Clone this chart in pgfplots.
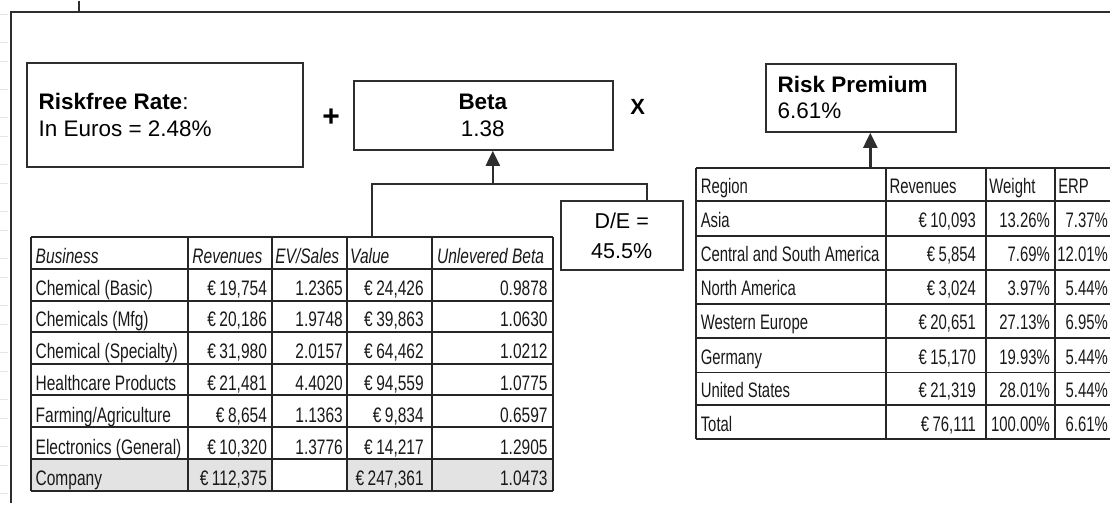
\documentclass[border=0pt]{standalone}
\usepackage{fontspec}
\setmainfont{Liberation Sans}
\newfontfamily\narrowL[FakeStretch=0.74]{Liberation Sans}
\newfontfamily\narrowR[FakeStretch=0.71]{Liberation Sans}
\usepackage{pgfplots}
\pgfplotsset{compat=1.18}
\usetikzlibrary{arrows.meta}

\definecolor{frame}{HTML}{2E2E2E}
\definecolor{gridc}{HTML}{262626}
\definecolor{cellgray}{HTML}{E3E3E3}

\newcommand{\boxfont}{\fontsize{22.5}{27}\selectfont}
\newcommand{\tabfont}{\fontsize{21}{25}\selectfont}

\tikzset{
  bx/.style={draw=frame, line width=2pt},
  tl/.style={anchor=base west, inner sep=0pt, text=black!90, font=\narrowL\tabfont},
  tr/.style={anchor=base east, inner sep=0pt, text=black!90, font=\narrowL\tabfont},
  rl/.style={anchor=base west, inner sep=0pt, text=black!90, font=\narrowR\tabfont},
  rr/.style={anchor=base east, inner sep=0pt, text=black!90, font=\narrowR\tabfont},
}

% business table: baseline, name, revenues, ev/sales, value, unlevered beta
\newcommand{\lrow}[6]{%
  \node[tl] at (35,#1) {#2};
  \node[tr] at (267,#1) {#3};
  \node[tr] at (343,#1) {#4};
  \node[tr] at (424,#1) {#5};
  \node[tr] at (548,#1) {#6};
}
% region table: baseline, region, revenues, weight, erp
\newcommand{\rrow}[5]{%
  \node[rl] at (701,#1) {#2};
  \node[rr] at (977,#1) {#3};
  \node[rr] at (1051,#1) {#4};
  \node[rr] at (1109,#1) {#5};
}

\begin{document}
\begin{tikzpicture}
\begin{axis}[
    width=1111pt, height=503pt, scale only axis,
    xmin=0, xmax=1111, ymin=0, ymax=503,
    y dir=reverse,
    hide axis,
    clip=false,
]
\path (0,0) rectangle (1111,503);

% spreadsheet margin marks
\pgfplotsinvokeforeach{14,42,61,89,117,136,164,183,211,230,258,277,305,324,352,371,399,418,446,465,493}{
  \draw[black!10, line width=1pt] (0,#1) -- (8,#1);
}

% outer frame
\draw[frame, line width=2pt] (11,503) -- (11,11) -- (1111,11);
\draw[frame, line width=2pt] (79,0) -- (79,11);

% riskfree box
\draw[bx] (27,62) rectangle (303,166);
\node[anchor=base west, inner sep=0pt, font=\boxfont] at (38,109) {\textbf{Riskfree Rate}:};
\node[anchor=base west, inner sep=0pt, font=\boxfont] at (38,136) {In Euros = 2.48\%};
\node[inner sep=0pt, font=\fontsize{30}{34}\selectfont\bfseries] at (331,117) {+};

% beta box
\draw[bx] (354,80) rectangle (613,149);
\node[anchor=base, inner sep=0pt, font=\boxfont\bfseries] at (483,109) {Beta};
\node[anchor=base, inner sep=0pt, font=\boxfont] at (483,136) {1.38};
\node[inner sep=0pt, font=\fontsize{22}{26}\selectfont\bfseries] at (638,106) {X};
\draw[frame, line width=2.4pt, -{Triangle[width=14pt,length=15pt]}] (493,183) -- (493,150);
\draw[frame, line width=2pt] (372,236) -- (372,183) -- (647,183) -- (647,200);

% D/E box
\draw[bx] (561,200) rectangle (683,269);
\node[anchor=base, inner sep=0pt, font=\fontsize{21.5}{26}\selectfont] at (622,228) {D/E =};
\node[anchor=base, inner sep=0pt, font=\fontsize{21.5}{26}\selectfont] at (622,258) {45.5\%};

% risk premium box
\draw[bx] (767,63) rectangle (957,131);
\node[anchor=base west, inner sep=0pt, font=\boxfont\bfseries] at (778,92) {Risk Premium};
\node[anchor=base west, inner sep=0pt, font=\boxfont] at (778,118) {6.61\%};
\draw[frame, line width=2.4pt, -{Triangle[width=14pt,length=15pt]}] (871,167) -- (871,132);

% ---------- business table ----------
\fill[cellgray] (31,459) rectangle (272,491);
\fill[cellgray] (347,459) rectangle (553,491);
\pgfplotsinvokeforeach{236,268,300,331,363,395,427,459,491}{
  \draw[gridc, line width=2pt] (31,#1) -- (553,#1);
}
\pgfplotsinvokeforeach{31,188,272,347,432,553}{
  \draw[gridc, line width=2pt] (#1,236) -- (#1,491);
}
\node[tl] at (35,263) {\itshape Business};
\node[tl] at (192,263) {\itshape Revenues};
\node[tl] at (275,263) {\itshape EV/Sales};
\node[tl] at (350,263) {\itshape Value};
\node[tl] at (437,263) {\itshape Unlevered Beta};
\lrow{295}{Chemical (Basic)}{€\,19,754}{1.2365}{€\,24,426}{0.9878}
\lrow{326}{Chemicals (Mfg)}{€\,20,186}{1.9748}{€\,39,863}{1.0630}
\lrow{358}{Chemical (Specialty)}{€\,31,980}{2.0157}{€\,64,462}{1.0212}
\lrow{390}{Healthcare Products}{€\,21,481}{4.4020}{€\,94,559}{1.0775}
\lrow{422}{Farming/Agriculture}{€\,8,654}{1.1363}{€\,9,834}{0.6597}
\lrow{454}{Electronics (General)}{€\,10,320}{1.3776}{€\,14,217}{1.2905}
\lrow{485}{Company}{€\,112,375}{}{€\,247,361}{1.0473}

% ---------- region table ----------
\pgfplotsinvokeforeach{167,200,235,269,303,337,372,405,439}{
  \draw[gridc, line width=2pt] (696,#1) -- (1111,#1);
}
\pgfplotsinvokeforeach{696,887,987,1056}{
  \draw[gridc, line width=2pt] (#1,167) -- (#1,439);
}
\node[rl] at (701,193) {Region};
\node[rl] at (890,193) {Revenues};
\node[rl] at (990,193) {Weight};
\node[rl] at (1059,193) {ERP};
\rrow{227}{Asia}{€\,10,093}{13.26\%}{7.37\%}
\rrow{261}{Central and South America}{€\,5,854}{7.69\%}{12.01\%}
\rrow{295}{North America}{€\,3,024}{3.97\%}{5.44\%}
\rrow{329}{Western Europe}{€\,20,651}{27.13\%}{6.95\%}
\rrow{364}{Germany}{€\,15,170}{19.93\%}{5.44\%}
\rrow{397}{United States}{€\,21,319}{28.01\%}{5.44\%}
\rrow{431}{Total}{€\,76,111}{100.00\%}{6.61\%}
\end{axis}
\end{tikzpicture}
\end{document}
